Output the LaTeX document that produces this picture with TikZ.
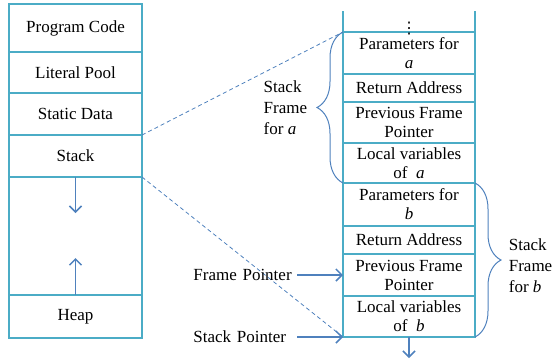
\documentclass[tikz,border=0pt]{standalone}
\usepackage{fontspec}
\setmainfont{Liberation Serif}
\newfontfamily\symfont{DejaVu Sans}
\usetikzlibrary{positioning,arrows.meta,decorations.pathreplacing}
\definecolor{boxline}{HTML}{4BACC6}
\definecolor{arrline}{HTML}{4F81BD}
\begin{document}
\begin{tikzpicture}[x=1pt,y=-1pt,font=\fontsize{17}{19}\selectfont,>={Straight Barb[length=6pt,width=12pt]}]
\tikzstyle{seg}=[draw=boxline,line width=2pt,minimum width=133pt,outer sep=0pt,inner sep=0pt,align=center]
\tikzstyle{fr}=[seg,minimum width=132pt]
\tikzstyle{ptr}=[draw=arrline,line width=1.5pt]
\tikzstyle{lbl}=[text width=100pt,align=left]
\tikzstyle{brc}=[draw=arrline,line width=1pt,decorate,decoration={brace,amplitude=26pt}]
\useasboundingbox (0,0) rectangle (559,360);
% memory map
\node[seg,minimum height=48pt,anchor=north west] (code) at (9,4) {Program Code};
\node[seg,minimum height=41pt,below=0pt of code] (lit) {Literal Pool};
\node[seg,minimum height=42pt,below=0pt of lit] (stat) {Static Data};
\node[seg,minimum height=42pt,below=0pt of stat] (stk) {Stack};
\node[seg,minimum height=118pt,below=0pt of stk] (gap) {};
\node[seg,minimum height=43pt,below=0pt of gap] (heap) {Heap};
\coordinate[below=36pt of gap.north] (sd);
\coordinate[above=37pt of gap.south] (hu);
\draw[ptr,->] (gap.north) -- (sd);
\draw[ptr,->] (heap.north) -- (hu);
% stack frames
\node[fr,minimum height=42pt,anchor=north west] (pa) at (343,32) {Parameters for\\\textit{a}};
\node[fr,minimum height=28pt,below=0pt of pa] (ra) {Return Address};
\node[fr,minimum height=41pt,below=0pt of ra] (pfa) {Previous Frame\\Pointer};
\node[fr,minimum height=40pt,below=0pt of pfa] (lva) {Local variables\\of~~\textit{a}};
\node[fr,minimum height=43pt,below=0pt of lva] (pb) {Parameters for\\\textit{b}};
\node[fr,minimum height=28pt,below=0pt of pb] (rb) {Return Address};
\node[fr,minimum height=42pt,below=0pt of rb] (pfb) {Previous Frame\\Pointer};
\node[fr,minimum height=41pt,below=0pt of pfb] (lvb) {Local variables\\of~~\textit{b}};
\coordinate[above=21pt of pa.north west] (tl);
\coordinate[above=21pt of pa.north east] (tr);
\draw[boxline,line width=2pt] (pa.north west) -- (tl) (pa.north east) -- (tr);
\node[inner sep=0pt,anchor=base,font=\symfont\fontsize{16}{16}\selectfont] (dots) at (409,33) {⋮};
\coordinate[below=21pt of lvb.south] (sg);
\draw[ptr,->] (lvb.south) -- (sg);
% zoom lines
\draw[arrline,line width=0.8pt,dash pattern=on 4pt off 3pt] (stk.north east) -- (pa.north west);
\draw[arrline,line width=0.8pt,dash pattern=on 4pt off 3pt] (stk.south east) -- (lvb.south west);
% pointers
\node[lbl,left=46pt of pfb.west] (fp) {Frame Pointer};
\node[lbl,left=46pt of lvb.south west] (sp) {Stack Pointer};
\draw[ptr,->] (fp) -- (pfb);
\draw[ptr,->] (sp) -- (lvb.south west);
% braces
\draw[brc] (lva.south west) -- (pa.north west) node[midway,left=32pt,align=left,font=\fontsize{17}{21}\selectfont] (fa) {Stack\\Frame\\for \textit{a}};
\draw[brc] (pb.north east) -- (lvb.south east) node[midway,right=30pt,yshift=-6pt,align=left,font=\fontsize{17}{21}\selectfont] (fb) {Stack\\Frame\\for \textit{b}};
\end{tikzpicture}
\end{document}
